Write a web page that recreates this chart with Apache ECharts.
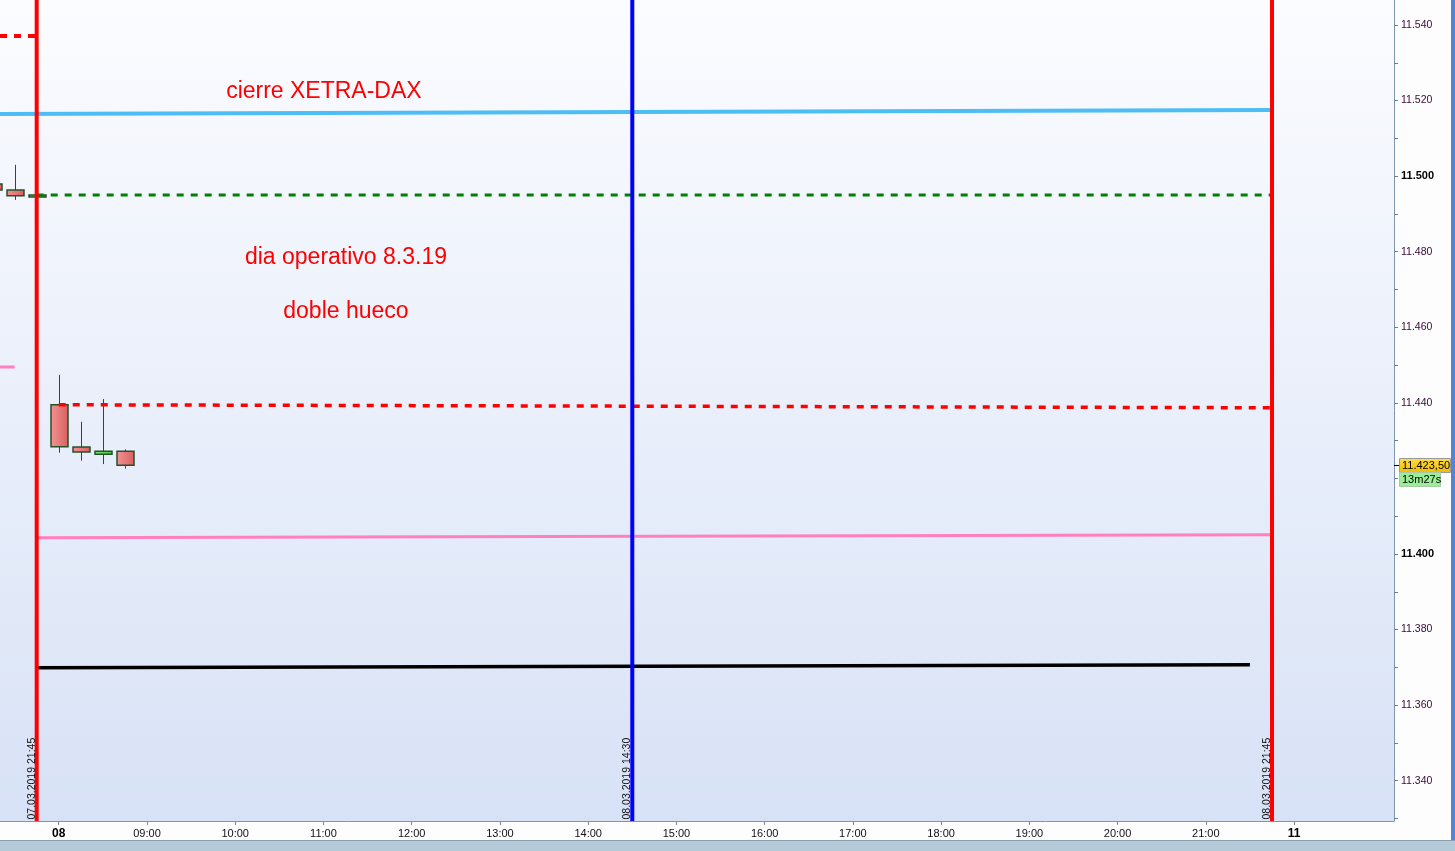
<!DOCTYPE html>
<html><head><meta charset="utf-8">
<script src="https://cdn.jsdelivr.net/npm/echarts@6/dist/echarts.min.js"></script>
<style>html,body{margin:0;padding:0;background:#fdfdfe;overflow:hidden}#c{width:1455px;height:851px}</style>
</head><body><div id="c"></div>
<script>
// x unit = one 15-minute slot; 0 = 08.03.2019 08:00 (overnight gap collapsed, 07.03 21:45 = -1)
const xMin = -2.663, xMax = 60.53;
const yMin = 11329.34, yMax = 11546.61;

const candleSlots = [-3, -2, -1, 0, 1, 2, 3];
const candleOpen  = [11497.9, 11496.3, 11494.5, 11439.5, 11428.3, 11426.4, 11427.2];
const candleClose = [11496.3, 11494.8, 11495.0, 11428.4, 11427.0, 11427.2, 11423.5];
const candleLow   = [11495.5, 11493.7, 11494.3, 11426.8, 11424.7, 11423.8, 11422.6];
const candleHigh  = [11499.0, 11503.0, 11495.2, 11447.4, 11435.0, 11441.0, 11427.7];

const redTopX = [-2.663, -1],   redTopY = [11537.1, 11537.1];
const blueX = [-2.663, 55],     blueY = [11516.45, 11517.5];
const greenX = [-1, 55],        greenY = [11495.0, 11495.0];
const pinkShortX = [-2.663, -2], pinkShortY = [11449.5, 11449.5];
const redMidX = [0, 55],        redMidY = [11439.5, 11438.7];
const pinkX = [-1, 55],         pinkY = [11404.3, 11405.1];
const blackX = [-1, 54],        blackY = [11369.9, 11370.7];

const vLineSlots = [-1, 26, 55];
const vLineColors = ['#ff0000', '#0000ff', '#ff0000'];
const vLineLabels = ['07.03.2019 21:45', '08.03.2019 14:30', '08.03.2019 21:45'];

const xTickSlots = [0,4,8,12,16,20,24,28,32,36,40,44,48,52,56];
const xTickLabels = ['08','09:00','10:00','11:00','12:00','13:00','14:00','15:00','16:00','17:00','18:00','19:00','20:00','21:00','11'];
const xBoldLabels = ['08','11'];

const yLabelValues = [11340,11360,11380,11400,11420,11440,11460,11480,11500,11520,11540];
const yTickValues = [11330,11340,11350,11360,11370,11380,11390,11400,11410,11420,11430,11440,11450,11460,11470,11480,11490,11500,11510,11520,11530,11540];
const yBoldValues = [11400, 11500];

const annSlots = [12.02, 13.02, 13.02];
const annValues = [11522.3, 11478.4, 11464.1];
const annTexts = ['cierre XETRA-DAX', 'dia operativo 8.3.19', 'doble hueco'];

const lastPrice = 11423.5;
const lastPriceText = '11.423,50';
const countdownText = '13m27s';

const FONT = 'Arial, "Liberation Sans", sans-serif';
const chart = echarts.init(document.getElementById('c'));

function fmtY(v){ const s = String(Math.round(v)); return s.slice(0,2)+'.'+s.slice(2); }
function pairs(xs, ys){ return xs.map((x,i)=>[x, ys[i]]); }
function hLine(name, xs, ys, color, width, dash){
  return {type:'line', name, data:pairs(xs,ys), symbol:'none', silent:true, z:5,
    lineStyle:{color, width, type: dash ? [7,7] : 'solid', cap:'butt'}, animation:false};
}

const redFill = new echarts.graphic.LinearGradient(0,0,1,0,[{offset:0,color:'#f69494'},{offset:1,color:'#d65f5f'}]);
const greenFill = new echarts.graphic.LinearGradient(0,0,1,0,[{offset:0,color:'#7ae86e'},{offset:1,color:'#46c83c'}]);

chart.setOption({
  backgroundColor:'#fdfdfe',
  animation:false,
  grid:{left:0, right:61, top:0, bottom:30, show:true, borderWidth:0,
    backgroundColor:new echarts.graphic.LinearGradient(0,0,0,1,[{offset:0,color:'#fbfcff'},{offset:1,color:'#d8e2f6'}])},
  xAxis:{type:'value', min:xMin, max:xMax, position:'bottom',
    axisLine:{show:true, onZero:false, lineStyle:{color:'#8096aa', width:1}},
    axisTick:{show:true, customValues:xTickSlots, length:4, lineStyle:{color:'#7d8a96'}},
    axisLabel:{show:true, customValues:xTickSlots, margin:7, fontFamily:FONT, fontSize:11, color:'#10101a',
      formatter:v=>{ const i = xTickSlots.indexOf(Math.round(v)); const t = i>=0 ? xTickLabels[i] : '';
        return xBoldLabels.includes(t) ? '{b|'+t+'}' : t; },
      rich:{b:{fontWeight:'bold', fontSize:12, fontFamily:FONT, color:'#000'}}},
    splitLine:{show:false}},
  yAxis:{type:'value', position:'right', min:yMin, max:yMax,
    axisLine:{show:true, onZero:false, lineStyle:{color:'#8096aa', width:1}},
    axisTick:{show:true, customValues:yTickValues, length:4, lineStyle:{color:'#6a7e90'}},
    axisLabel:{show:true, customValues:yLabelValues, margin:7, fontFamily:FONT, fontSize:10.5,
      formatter:v=>{ const s = fmtY(v); return yBoldValues.includes(Math.round(v)) ? '{b|'+s+'}' : '{n|'+s+'}'; },
      rich:{b:{fontWeight:'bold', fontSize:11, fontFamily:FONT, color:'#000'}, n:{fontSize:10.5, fontFamily:FONT, color:'#3a0838'}}},
    splitLine:{show:false}},
  graphic:[
    {type:'rect', left:0, top:840, shape:{width:1455, height:1}, style:{fill:'#8a9cad'}, z:100},
    {type:'rect', left:0, top:841, shape:{width:1455, height:10}, style:{fill:'#b5cad8'}, z:100},
    {type:'rect', left:1451, top:0, shape:{width:4, height:840}, style:{fill:'#4f86d8'}, z:100}
  ],
  series:[
    {type:'custom', name:'velas', z:3, silent:true,
      data:candleSlots.map((s,i)=>[s, candleOpen[i], candleClose[i], candleLow[i], candleHigh[i]]),
      renderItem:(params, api)=>{
        const x=api.value(0), o=api.value(1), c=api.value(2), l=api.value(3), h=api.value(4);
        const pO=api.coord([x,o]), pC=api.coord([x,c]), pL=api.coord([x,l]), pH=api.coord([x,h]);
        const w = api.size([1,0])[0]*0.77;
        const up = c>=o;
        const top=Math.min(pO[1],pC[1]), bot=Math.max(pO[1],pC[1]);
        const cx = Math.round(pO[0])+0.5;
        return {type:'group', children:[
          {type:'line', shape:{x1:cx,y1:pH[1],x2:cx,y2:pL[1]}, style:{stroke:'#24502a', lineWidth:1}},
          {type:'rect', shape:{x:cx-w/2, y:top, width:w, height:Math.max(bot-top,2)},
            style:{fill: up ? greenFill : redFill, stroke:'#24502a', lineWidth:1.5}}
        ]};
      }},
    hLine('redTop', redTopX, redTopY, '#ff0000', 4, true),
    hLine('xetra', blueX, blueY, '#4dbdf6', 4, false),
    hLine('green', greenX, greenY, '#008000', 3, true),
    hLine('pinkShort', pinkShortX, pinkShortY, '#ff7fbf', 3, false),
    hLine('redMid', redMidX, redMidY, '#ff0000', 3.5, true),
    hLine('pink', pinkX, pinkY, '#ff7fbf', 3, false),
    hLine('black', blackX, blackY, '#000000', 3.5, false),
    {type:'custom', name:'verticales', z:6, silent:true,
      data:vLineSlots.map((s,i)=>[s,i]),
      renderItem:(params, api)=>{
        const cs = params.coordSys;
        const i = api.value(1);
        const px = api.coord([api.value(0), yMin])[0];
        return {type:'group', children:[
          {type:'line', shape:{x1:px, y1:cs.y, x2:px, y2:cs.y+cs.height}, style:{stroke:vLineColors[i], lineWidth:4}},
          {type:'text', x:px+0.5, y:cs.y+cs.height-1.5, rotation:Math.PI/2,
            style:{text:vLineLabels[i], fill:'#101010', font:'10.5px '+FONT, align:'left', verticalAlign:'bottom'}}
        ]};
      }},
    {type:'custom', name:'textos', z:7, silent:true,
      data:annSlots.map((s,i)=>[s, annValues[i], i]),
      renderItem:(params, api)=>{
        const p = api.coord([api.value(0), api.value(1)]);
        return {type:'text', x:p[0], y:p[1],
          style:{text:annTexts[api.value(2)], fill:'#ff0000', font:'23px '+FONT, align:'center', verticalAlign:'middle'}};
      }},
    {type:'custom', name:'precio', z:8, silent:true, clip:false,
      data:[[xMax, lastPrice]],
      renderItem:(params, api)=>{
        const p = api.coord([api.value(0), api.value(1)]);
        const x = p[0], y = Math.round(p[1]);
        return {type:'group', children:[
          {type:'line', shape:{x1:x, y1:y+0.5, x2:x+6, y2:y+0.5}, style:{stroke:'#000', lineWidth:1}},
          {type:'rect', shape:{x:x+5.5, y:y-6.5, width:51, height:14},
            style:{fill:new echarts.graphic.LinearGradient(0,0,0,1,[{offset:0,color:'#ffe040'},{offset:1,color:'#f2b800'}]), stroke:'#9a9a9a', lineWidth:1}},
          {type:'text', x:x+8, y:y+0.5, style:{text:lastPriceText, fill:'#000', font:'11px '+FONT, align:'left', verticalAlign:'middle'}},
          {type:'rect', shape:{x:x+5.5, y:y+7.5, width:41, height:14},
            style:{fill:'#9aee96', stroke:'#a8c8a8', lineWidth:1}},
          {type:'text', x:x+8, y:y+14.5, style:{text:countdownText, fill:'#000', font:'11px '+FONT, align:'left', verticalAlign:'middle'}}
        ]};
      }}
  ]
});
</script>
</body></html>
